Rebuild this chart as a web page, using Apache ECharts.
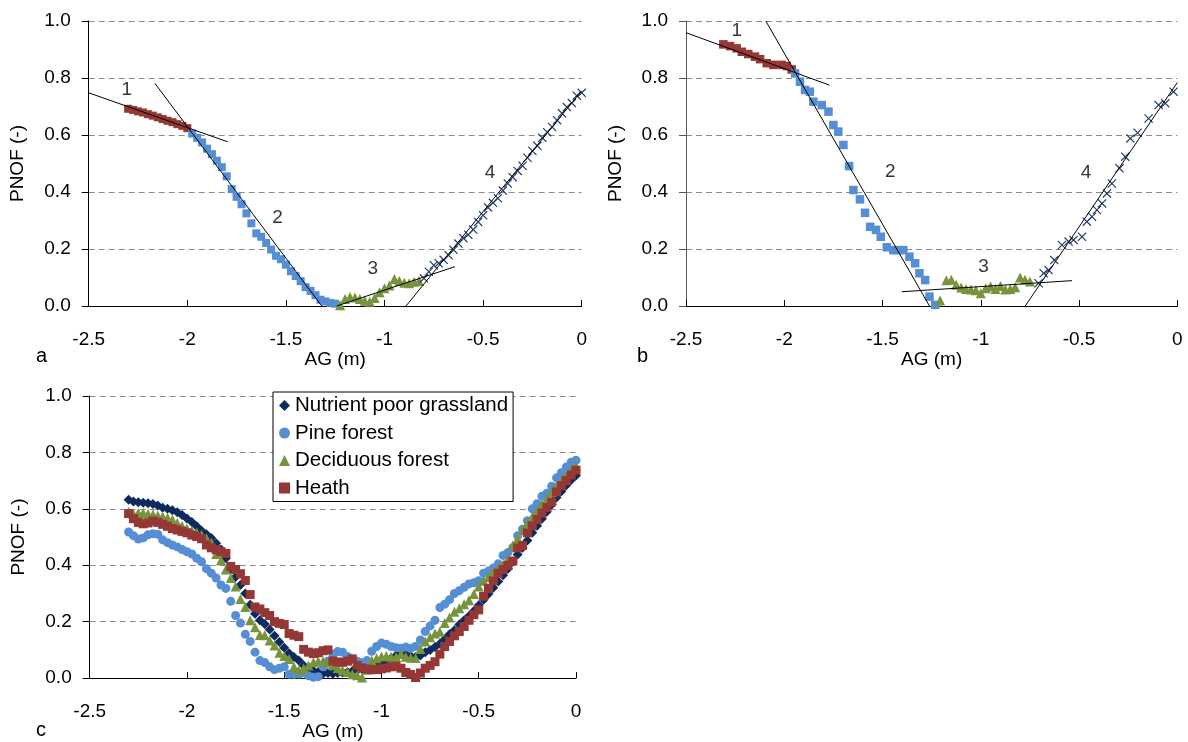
<!DOCTYPE html>
<html><head><meta charset="utf-8">
<script src="https://cdn.jsdelivr.net/npm/echarts/dist/echarts.min.js"></script>
<style>html,body{margin:0;padding:0;background:#fff}#chart{width:1188px;height:742px}</style>
</head><body><div id="chart"></div>
<script>
// ---------- Panel a ----------
const agA1 = [-2.3,-2.275,-2.25,-2.225,-2.2,-2.175,-2.15,-2.125,-2.1,-2.075,-2.05,-2.025,-2.0];
const pnofA1 = [0.692,0.688,0.683,0.679,0.673,0.668,0.662,0.656,0.650,0.645,0.638,0.632,0.624];
const agA2 = [-1.975,-1.95,-1.925,-1.9,-1.875,-1.85,-1.825,-1.8,-1.775,-1.75,-1.725,-1.7,-1.675,-1.65,-1.625,-1.6,-1.575,-1.55,-1.525,-1.5,-1.475,-1.45,-1.425,-1.4,-1.375,-1.35,-1.325,-1.3,-1.275,-1.25];
const pnofA2 = [0.605,0.590,0.574,0.552,0.533,0.510,0.487,0.455,0.410,0.383,0.357,0.325,0.290,0.255,0.243,0.221,0.198,0.176,0.164,0.145,0.122,0.105,0.087,0.066,0.053,0.038,0.022,0.016,0.011,0.008];
const agA3 = [-1.225,-1.2,-1.175,-1.15,-1.125,-1.1,-1.075,-1.05,-1.025,-1.0,-0.975,-0.95,-0.925,-0.9,-0.875,-0.85,-0.825];
const pnofA3 = [0.003,0.025,0.032,0.030,0.025,0.018,0.015,0.028,0.048,0.062,0.072,0.095,0.088,0.082,0.080,0.085,0.088];
const agA4 = [-0.8,-0.775,-0.75,-0.725,-0.7,-0.675,-0.65,-0.625,-0.6,-0.575,-0.55,-0.525,-0.5,-0.475,-0.45,-0.425,-0.4,-0.375,-0.35,-0.325,-0.3,-0.275,-0.25,-0.225,-0.2,-0.175,-0.15,-0.125,-0.1,-0.075,-0.05,-0.025,0];
const pnofA4 = [0.097,0.120,0.143,0.150,0.162,0.178,0.197,0.219,0.238,0.250,0.268,0.295,0.318,0.346,0.362,0.378,0.405,0.430,0.452,0.474,0.492,0.520,0.544,0.562,0.590,0.610,0.628,0.652,0.676,0.698,0.712,0.738,0.748];
const trendAX = [[-2.5,-1.795],[-2.164,-1.318],[-1.242,-0.643],[-0.891,0]];
const trendAY = [[0.748,0.576],[0.781,0],[0,0.138],[0,0.755]];
const segLabels = ['1','2','3','4'];
const labAX = [-2.307,-1.542,-1.06,-0.465];
const labAY = [0.760,0.311,0.132,0.466];

// ---------- Panel b ----------
const agB1 = [-2.31,-2.276,-2.242,-2.216,-2.183,-2.149,-2.123,-2.089,-2.055,-2.013,-1.987,-1.962];
const pnofB1 = [0.918,0.912,0.904,0.892,0.884,0.875,0.866,0.852,0.846,0.846,0.842,0.830];
const agB2 = [-1.945,-1.92,-1.894,-1.87,-1.852,-1.809,-1.775,-1.75,-1.725,-1.699,-1.67,-1.648,-1.615,-1.589,-1.563,-1.533,-1.509,-1.478,-1.445,-1.42,-1.394,-1.363,-1.334,-1.312,-1.283,-1.261,-1.232];
const pnofB2 = [0.816,0.787,0.758,0.752,0.717,0.705,0.682,0.635,0.612,0.565,0.491,0.407,0.374,0.327,0.278,0.267,0.243,0.206,0.196,0.196,0.196,0.173,0.150,0.115,0.091,0.033,0.004];
const agB3 = [-1.207,-1.175,-1.15,-1.125,-1.1,-1.075,-1.05,-1.025,-1.0,-0.975,-0.95,-0.925,-0.9,-0.875,-0.85,-0.825,-0.8,-0.775,-0.75];
const pnofB3 = [0.019,0.090,0.092,0.075,0.065,0.060,0.058,0.055,0.045,0.062,0.068,0.060,0.070,0.058,0.060,0.066,0.100,0.092,0.086];
const agB4 = [-0.706,-0.68,-0.655,-0.626,-0.587,-0.553,-0.528,-0.485,-0.46,-0.434,-0.409,-0.383,-0.358,-0.333,-0.294,-0.265,-0.239,-0.202,-0.146,-0.095,-0.061,-0.019];
const pnofB4 = [0.080,0.115,0.126,0.161,0.214,0.226,0.232,0.243,0.296,0.313,0.337,0.360,0.395,0.430,0.483,0.524,0.588,0.608,0.658,0.705,0.711,0.752];
const trendBX = [[-2.5,-1.77],[-2.094,-1.261],[-1.402,-0.536],[-0.774,0]];
const trendBY = [[0.959,0.775],[1.0,0],[0.05,0.089],[0,0.784]];
const labBX = [-2.242,-1.461,-0.986,-0.465];
const labBY = [0.966,0.471,0.136,0.466];

// ---------- Panel c ----------
const seriesNamesC = ['Nutrient poor grassland','Pine forest','Deciduous forest','Heath'];
const agC = [-2.3,-2.275,-2.25,-2.225,-2.2,-2.175,-2.15,-2.125,-2.1,-2.075,-2.05,-2.025,-2.0,
  -1.975,-1.95,-1.925,-1.9,-1.875,-1.85,-1.825,-1.8,-1.775,-1.75,-1.725,-1.7,-1.675,-1.65,-1.625,-1.6,-1.575,-1.55,-1.525,-1.5,-1.475,-1.45,-1.425,-1.4,-1.375,-1.35,-1.325,-1.3,-1.275,-1.25,-1.225,-1.2,-1.175,-1.15,-1.125,-1.1,-1.075,-1.05,-1.025,-1.0,
  -0.975,-0.95,-0.925,-0.9,-0.875,-0.85,-0.825,-0.8,-0.775,-0.75,-0.725,-0.7,-0.675,-0.65,-0.625,-0.6,-0.575,-0.55,-0.525,-0.5,-0.475,-0.45,-0.425,-0.4,-0.375,-0.35,-0.325,-0.3,-0.275,-0.25,-0.225,-0.2,-0.175,-0.15,-0.125,-0.1,-0.075,-0.05,-0.025,0];
const grassland = [0.632,0.626,0.623,0.622,0.620,0.617,0.612,0.604,0.600,0.595,0.588,0.578,0.566,
  0.553,0.538,0.522,0.510,0.497,0.478,0.456,0.425,0.388,0.358,0.330,0.300,0.260,0.228,0.205,0.192,0.172,0.150,0.128,0.108,0.088,0.075,0.062,0.045,0.035,0.027,0.022,0.015,
  0.018,0.015,0.018,0.020,0.022,0.025,0.028,0.032,0.040,0.048,0.052,0.056,
  0.062,0.070,0.080,0.088,0.084,0.078,0.075,0.080,0.092,0.100,0.110,0.122,0.138,0.155,0.170,0.190,0.205,0.220,0.238,0.258,
  0.278,0.298,0.320,0.342,0.365,0.388,0.412,0.438,0.462,0.488,0.515,0.540,0.565,0.590,0.615,0.640,0.662,0.684,0.702,0.718];
const pine = [0.518,0.505,0.493,0.497,0.508,0.512,0.510,0.490,0.480,0.472,0.465,0.456,0.448,
  0.440,0.425,0.412,0.388,0.372,0.355,0.330,0.318,0.272,0.222,0.195,0.155,0.130,0.092,0.062,0.055,0.040,0.030,0.035,0.040,0.014,0.013,0.014,0.018,0.008,0.003,0.005,0.040,0.060,0.085,0.094,0.092,0.077,0.068,0.060,0.054,0.062,0.095,0.112,0.124,
  0.120,0.112,0.108,0.106,0.110,0.106,0.112,0.135,0.165,0.185,0.205,0.250,0.262,0.278,0.300,0.310,0.322,0.334,0.338,0.345,
  0.372,0.380,0.390,0.405,0.435,0.445,0.462,0.505,0.528,0.558,0.600,0.618,0.645,0.655,0.680,0.710,0.728,0.748,0.765,0.772];
const deciduous = [0.590,0.583,0.585,0.585,0.583,0.580,0.576,0.573,0.568,0.562,0.550,0.540,0.530,
  0.522,0.516,0.508,0.496,0.480,0.440,0.418,0.385,0.355,0.325,0.280,0.252,0.205,0.180,0.153,0.152,0.133,0.116,0.090,0.078,0.068,0.040,0.028,0.035,0.045,0.056,0.060,0.060,0.055,0.046,0.036,0.028,0.022,0.014,0.010,0.002,0.030,0.062,0.070,0.077,
  0.078,0.076,0.075,0.085,0.076,0.072,0.071,0.103,0.130,0.145,0.158,0.164,0.195,0.215,0.235,0.248,0.262,0.276,0.298,0.325,
  0.345,0.358,0.378,0.390,0.402,0.422,0.470,0.495,0.525,0.550,0.572,0.595,0.615,0.635,0.660,0.682,0.700,0.718,0.740,0.752];
const heath = [0.583,0.565,0.552,0.547,0.550,0.557,0.552,0.545,0.538,0.530,0.525,0.520,0.515,
  0.507,0.502,0.494,0.472,0.462,0.455,0.448,0.442,0.396,0.385,0.370,0.346,0.296,0.252,0.245,0.232,0.222,0.200,0.194,0.190,0.158,0.152,0.147,0.102,0.092,0.087,0.090,0.097,0.100,0.061,0.057,0.056,0.060,0.068,0.045,0.036,0.032,0.030,0.030,0.033,
  0.036,0.040,0.042,0.035,0.020,0.013,0.002,0.018,0.035,0.045,0.058,0.085,0.112,0.130,0.150,0.165,0.183,0.205,0.225,0.242,
  0.290,0.318,0.345,0.372,0.385,0.400,0.415,0.462,0.470,0.515,0.540,0.562,0.585,0.605,0.625,0.660,0.682,0.700,0.720,0.737];

// ---------- Chart ----------
const FF = "'Liberation Sans', Arial, sans-serif";
const FS = 19;
const C_RED = '#953735', C_BLUE = '#558ED5', C_GREEN = '#77933C', C_NAVY = '#1F3864', C_DNAVY = '#0E2A5E';
const CROSS = 'path://M0,0.9 L0.9,0 L10,9.1 L9.1,10 Z M9.1,0 L10,0.9 L0.9,10 L0,9.1 Z';
const pairs = (xs, ys) => xs.map((x, i) => [x, ys[i]]);

const grids = [
  {left: 88.7, top: 21, width: 493, height: 285},
  {left: 686, top: 21, width: 491.3, height: 285},
  {left: 89.7, top: 396, width: 486.3, height: 286}
];

function xAx(i, gap) {
  return {type: 'value', gridIndex: i, min: -2.5, max: 0, interval: 0.5,
    name: 'AG (m)', nameLocation: 'middle', nameGap: gap,
    nameTextStyle: {fontSize: FS, color: '#000', fontFamily: FF},
    axisLine: {onZero: false, lineStyle: {color: '#000', width: 1}},
    axisTick: {inside: true, length: 6, lineStyle: {color: '#000'}},
    axisLabel: {margin: 24, fontSize: FS, color: '#000', fontFamily: FF, showMinLabel: true, showMaxLabel: true},
    splitLine: {show: false}};
}
function yAx(i, axisColor) {
  return {type: 'value', gridIndex: i, min: 0, max: 1, interval: 0.2,
    name: 'PNOF (-)', nameLocation: 'middle', nameGap: 61, nameRotate: 90,
    nameTextStyle: {fontSize: FS, color: '#000', fontFamily: FF},
    axisLine: {show: true, onZero: false, lineStyle: {color: axisColor, width: 1}},
    axisTick: {show: true, inside: false, length: 7, lineStyle: {color: axisColor}},
    axisLabel: {margin: 18, fontSize: FS, color: '#000', fontFamily: FF, formatter: v => v.toFixed(1)},
    splitLine: {show: true, lineStyle: {color: '#8a8a8a', type: [6, 4], width: 1}}};
}
function sc(i, xs, ys, symbol, size, color, name) {
  const s = {type: 'scatter', xAxisIndex: i, yAxisIndex: i, data: pairs(xs, ys),
    symbol: symbol, symbolSize: size, itemStyle: {color: color, opacity: 1}, z: 2, silent: true};
  if (name) s.name = name;
  return s;
}
function trend(i, xs, ys) {
  return {type: 'line', xAxisIndex: i, yAxisIndex: i, data: pairs(xs, ys), symbol: 'none',
    lineStyle: {color: '#000', width: 1}, z: 5, silent: true};
}
function labels(i, xs, ys) {
  return {type: 'scatter', xAxisIndex: i, yAxisIndex: i, symbolSize: 1, z: 6, silent: true,
    itemStyle: {color: 'rgba(0,0,0,0)'},
    data: xs.map((x, k) => ({value: [x, ys[k]], name: segLabels[k]})),
    label: {show: true, position: 'inside', formatter: '{b}', fontSize: FS, color: '#000', fontFamily: FF}};
}

const series = [];
// panel a
series.push(sc(0, agA1, pnofA1, 'rect', 8, C_RED));
series.push(sc(0, agA2, pnofA2, 'rect', 8, C_BLUE));
series.push(sc(0, agA3, pnofA3, 'triangle', 10, C_GREEN));
series.push(sc(0, agA4, pnofA4, CROSS, 9, C_NAVY));
trendAX.forEach((xs, k) => series.push(trend(0, xs, trendAY[k])));
series.push(labels(0, labAX, labAY));
// panel b
series.push(sc(1, agB1, pnofB1, 'rect', 8.5, C_RED));
series.push(sc(1, agB2, pnofB2, 'rect', 8.5, C_BLUE));
series.push(sc(1, agB3, pnofB3, 'triangle', 10, C_GREEN));
series.push(sc(1, agB4, pnofB4, CROSS, 9, C_NAVY));
trendBX.forEach((xs, k) => series.push(trend(1, xs, trendBY[k])));
series.push(labels(1, labBX, labBY));
// panel c
series.push(sc(2, agC, grassland, 'diamond', 10, C_DNAVY, seriesNamesC[0]));
series.push(sc(2, agC, pine, 'circle', 9, C_BLUE, seriesNamesC[1]));
series.push(sc(2, agC, deciduous, 'triangle', 10, C_GREEN, seriesNamesC[2]));
series.push(sc(2, agC, heath, 'rect', 9, C_RED, seriesNamesC[3]));

const chart = echarts.init(document.getElementById('chart'), null, {renderer: 'canvas'});
chart.setOption({
  animation: false,
  backgroundColor: '#fff',
  grid: grids,
  xAxis: [xAx(0, 38), xAx(1, 38), xAx(2, 40)],
  yAxis: [yAx(0, '#000'), yAx(1, '#555'), yAx(2, '#000')],
  legend: {
    orient: 'vertical', left: 273, top: 392, z: 10,
    backgroundColor: '#fff', borderColor: '#000', borderWidth: 1, borderRadius: 0,
    padding: [3, 5, 3, 6], itemGap: 6.5, itemWidth: 11, itemHeight: 11,
    selectedMode: false,
    textStyle: {fontSize: 20.5, lineHeight: 21, color: '#000', fontFamily: FF},
    data: [
      {name: seriesNamesC[0], icon: 'diamond', itemStyle: {color: C_DNAVY}},
      {name: seriesNamesC[1], icon: 'circle', itemStyle: {color: C_BLUE}},
      {name: seriesNamesC[2], icon: 'triangle', itemStyle: {color: C_GREEN}},
      {name: seriesNamesC[3], icon: 'rect', itemStyle: {color: C_RED}}
    ]
  },
  graphic: [
    {type: 'text', left: 36, top: 346, style: {text: 'a', fontSize: 20, fontFamily: FF, fill: '#000'}},
    {type: 'text', left: 637, top: 346, style: {text: 'b', fontSize: 20, fontFamily: FF, fill: '#000'}},
    {type: 'text', left: 36, top: 720, style: {text: 'c', fontSize: 20, fontFamily: FF, fill: '#000'}}
  ],
  series: series
});
</script></body></html>
